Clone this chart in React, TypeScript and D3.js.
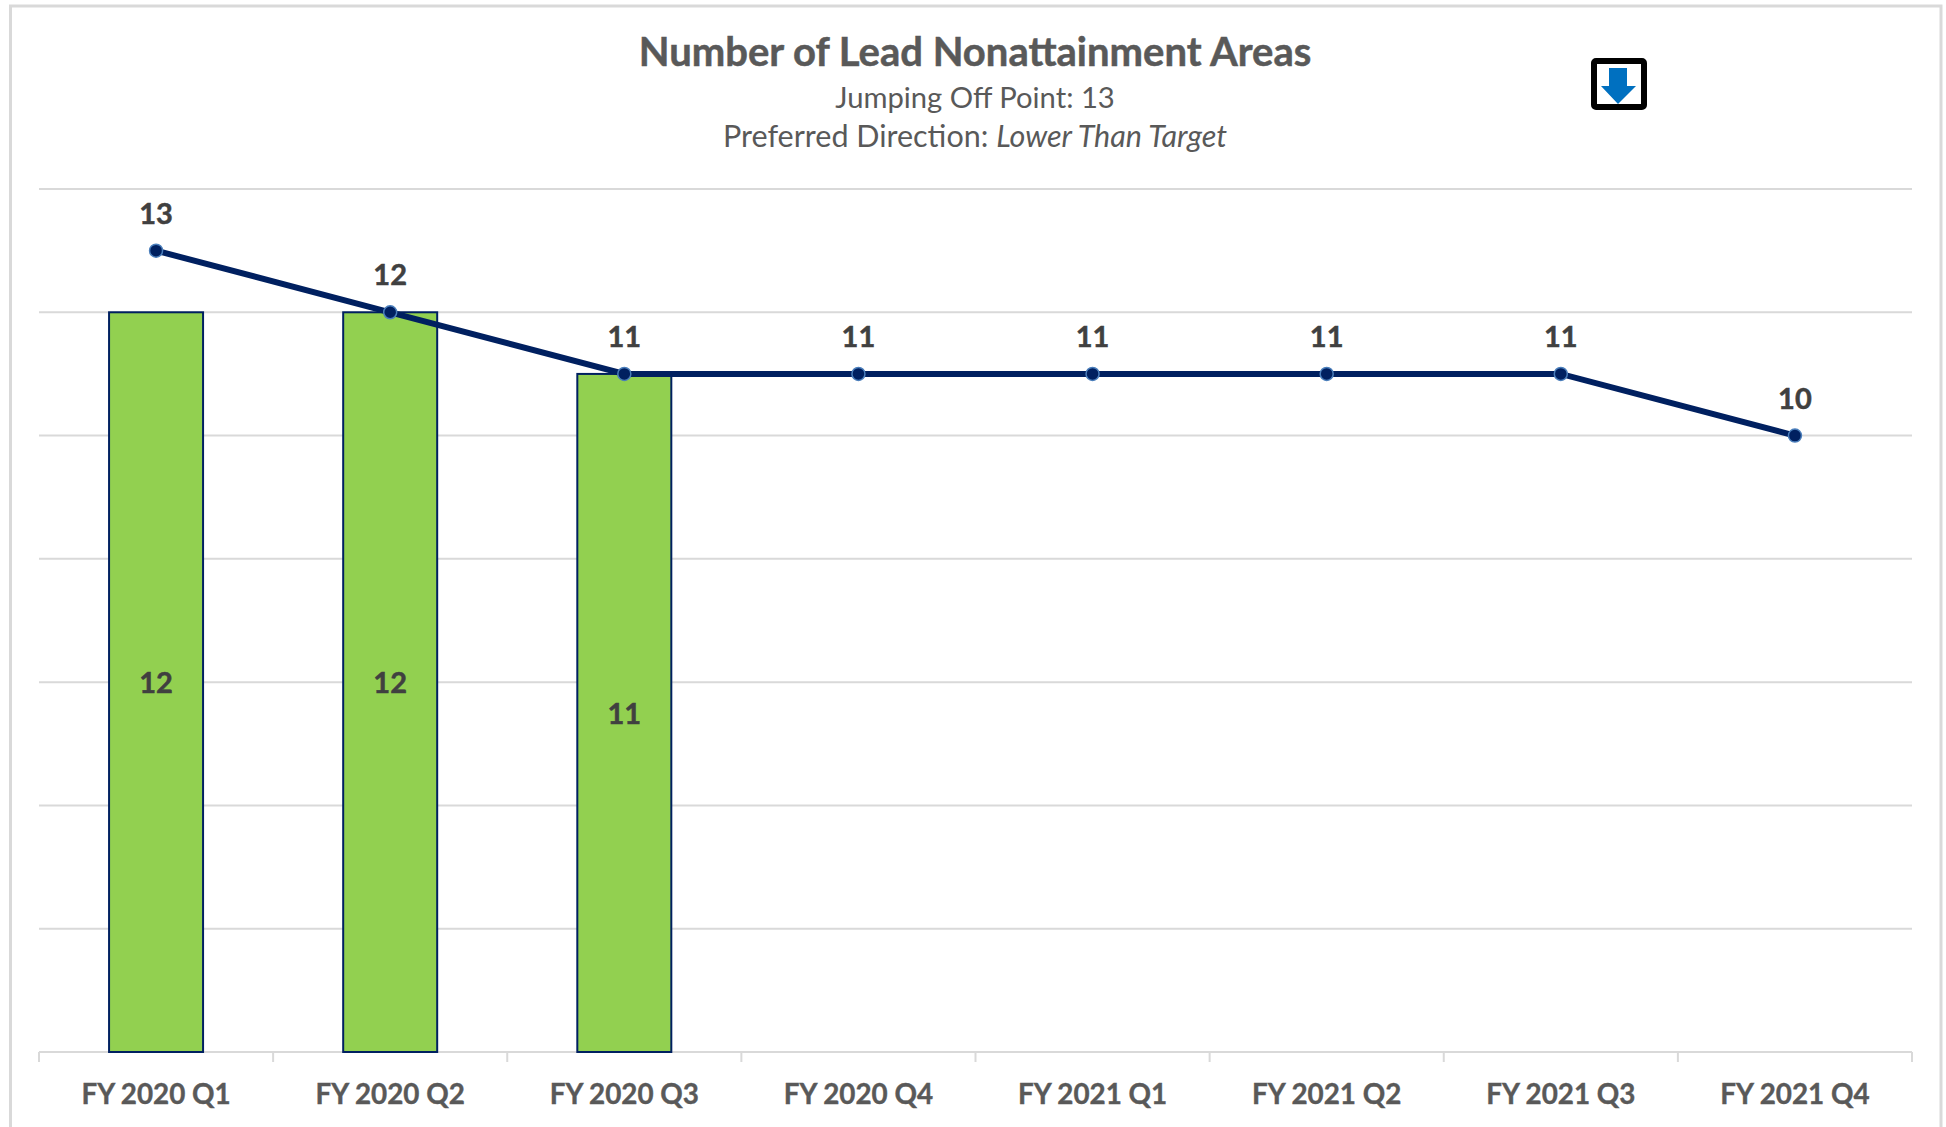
import { useEffect, useRef } from 'react'
import * as d3 from 'd3'

const categories = ['FY 2020 Q1', 'FY 2020 Q2', 'FY 2020 Q3', 'FY 2020 Q4', 'FY 2021 Q1', 'FY 2021 Q2', 'FY 2021 Q3', 'FY 2021 Q4']
const actuals = [12, 12, 11]
const targets = [13, 12, 11, 11, 11, 11, 11, 10]
const gridTicks = [0, 2, 4, 6, 8, 10, 12, 14]

const WIDTH = 1946
const HEIGHT = 1127
const FONT = 'Lato, Carlito, sans-serif'

function App() {
  const svgRef = useRef<SVGSVGElement>(null)

  useEffect(() => {
    const svg = d3.select(svgRef.current)
    svg.selectAll('*').remove()

    // frame is open at the bottom, it runs off the image
    svg.append('path')
      .attr('d', `M10.5,${HEIGHT} V6 H1941 V${HEIGHT}`)
      .attr('fill', 'none')
      .attr('stroke', '#d9d9d9')
      .attr('stroke-width', 3)

    const x = d3.scaleBand().domain(categories).range([39, 1912]).paddingInner(0).paddingOuter(0)
    const y = d3.scaleLinear().domain([0, 14]).range([1052, 189])

    // gridlines
    svg.append('g').selectAll('line')
      .data(gridTicks)
      .enter()
      .append('line')
      .attr('x1', 39)
      .attr('x2', 1912)
      .attr('y1', d => y(d))
      .attr('y2', d => y(d))
      .attr('stroke', '#d9d9d9')
      .attr('stroke-width', 2)

    // category tick marks
    const edges = [...categories.map(c => x(c) as number), 1912]
    svg.append('g').selectAll('line')
      .data(edges)
      .enter()
      .append('line')
      .attr('x1', d => d)
      .attr('x2', d => d)
      .attr('y1', 1052)
      .attr('y2', 1062)
      .attr('stroke', '#d9d9d9')
      .attr('stroke-width', 2)

    const center = (i: number) => (x(categories[i]) as number) + x.bandwidth() / 2
    const barWidth = 94

    // bars
    svg.append('g').selectAll('rect')
      .data(actuals)
      .enter()
      .append('rect')
      .attr('x', (_, i) => center(i) - barWidth / 2)
      .attr('y', d => y(d))
      .attr('width', barWidth)
      .attr('height', d => y(0) - y(d))
      .attr('fill', '#92d050')
      .attr('stroke', '#002060')
      .attr('stroke-width', 2)

    // target line
    const line = d3.line<number>().x((_, i) => center(i)).y(d => y(d))
    svg.append('path')
      .datum(targets)
      .attr('d', line)
      .attr('fill', 'none')
      .attr('stroke', '#002060')
      .attr('stroke-width', 6)

    svg.append('g').selectAll('circle')
      .data(targets)
      .enter()
      .append('circle')
      .attr('cx', (_, i) => center(i))
      .attr('cy', d => y(d))
      .attr('r', 6.5)
      .attr('fill', '#002060')
      .attr('stroke', '#4a7ebb')
      .attr('stroke-width', 1.5)

    // labels above the line
    svg.append('g').selectAll('text')
      .data(targets)
      .enter()
      .append('text')
      .attr('x', (_, i) => center(i))
      .attr('y', d => y(d) - 27)
      .attr('text-anchor', 'middle')
      .attr('font-family', FONT)
      .attr('font-size', 29)
      .attr('font-weight', 700)
      .attr('fill', '#404040')
      .attr('stroke', '#404040')
      .attr('stroke-width', 0.5)
      .text(d => d)

    // labels inside the bars
    svg.append('g').selectAll('text')
      .data(actuals)
      .enter()
      .append('text')
      .attr('x', (_, i) => center(i))
      .attr('y', d => (y(d) + y(0)) / 2 + 11)
      .attr('text-anchor', 'middle')
      .attr('font-family', FONT)
      .attr('font-size', 29)
      .attr('font-weight', 700)
      .attr('fill', '#404040')
      .attr('stroke', '#404040')
      .attr('stroke-width', 0.5)
      .text(d => d)

    // category labels
    svg.append('g').selectAll('text')
      .data(categories)
      .enter()
      .append('text')
      .attr('x', (_, i) => center(i))
      .attr('y', 1104)
      .attr('text-anchor', 'middle')
      .attr('font-family', FONT)
      .attr('font-size', 27.8)
      .attr('font-weight', 700)
      .attr('fill', '#595959')
      .attr('stroke', '#595959')
      .attr('stroke-width', 0.4)
      .text(d => d)

    // title block
    svg.append('text')
      .attr('x', 975)
      .attr('y', 66)
      .attr('text-anchor', 'middle')
      .attr('font-family', FONT)
      .attr('font-size', 40)
      .attr('font-weight', 700)
      .attr('fill', '#595959')
      .attr('stroke', '#595959')
      .attr('stroke-width', 0.5)
      .text('Number of Lead Nonattainment Areas')

    svg.append('text')
      .attr('x', 975)
      .attr('y', 108)
      .attr('text-anchor', 'middle')
      .attr('font-family', FONT)
      .attr('font-size', 29.2)
      .attr('fill', '#595959')
      .text('Jumping Off Point: 13')

    const direction = svg.append('text')
      .attr('x', 975)
      .attr('y', 147)
      .attr('text-anchor', 'middle')
      .attr('font-family', FONT)
      .attr('font-size', 30.5)
      .attr('fill', '#595959')
    direction.append('tspan').text('Preferred Direction: ')
    direction.append('tspan').attr('font-style', 'italic').text('Lower Than Target')

    // down arrow badge
    svg.append('rect')
      .attr('x', 1594)
      .attr('y', 61)
      .attr('width', 50)
      .attr('height', 46)
      .attr('rx', 2)
      .attr('fill', '#fff')
      .attr('stroke', '#000')
      .attr('stroke-width', 6)
    svg.append('path')
      .attr('d', 'M1609,68 H1627 V86 H1636 L1618,104 L1601,86 H1609 Z')
      .attr('fill', '#0070c0')
  }, [])

  return (
    <svg
      ref={svgRef}
      width={WIDTH}
      height={HEIGHT}
      style={{ position: 'absolute', left: 0, top: 0, background: '#fff' }}
    />
  )
}

export default App
